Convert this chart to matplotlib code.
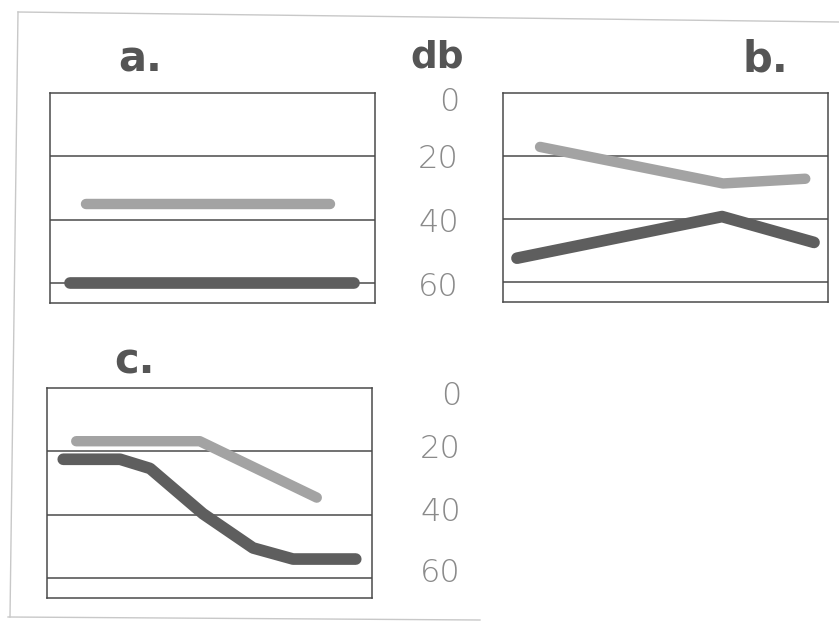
import matplotlib
matplotlib.use("Agg")
import matplotlib.pyplot as plt
from matplotlib.lines import Line2D
import matplotlib.transforms as mtransforms

# ---- data (x as % of panel width, y in dB hearing level) ----
a_gray_x = [11, 86]
a_gray_y = [35, 35]
a_dark_x = [6, 93.5]
a_dark_y = [60, 60]

b_gray_x = [11.4, 67.7, 93]
b_gray_y = [17.1, 28.7, 27.2]
b_dark_x = [4.3, 67.4, 95.7]
b_dark_y = [52.4, 39.2, 47.4]

c_gray_x = [9, 47, 83]
c_gray_y = [16.8, 16.8, 34.6]
c_dark_x = [5, 22.5, 31.7, 48, 63.4, 75.7, 95]
c_dark_y = [22.5, 22.5, 25.4, 39.7, 50.5, 54, 54]

db_ticks = [0, 20, 40, 60]
db_labels = ["0", "20", "40", "60"]
panel_labels = ["a.", "b.", "c."]

W, H = 839, 623
fig = plt.figure(figsize=(W / 100, H / 100), dpi=100)
fig.patch.set_facecolor("white")

DARK = "#5e5e5e"
GRAY = "#a3a3a3"
FRAME = "#4a4a4a"
LBL = "#8a8a8a"
TITLE = "#555555"

def px_axes(x0, y0, x1, y1):
    return fig.add_axes([x0 / W, 1 - y1 / H, (x1 - x0) / W, (y1 - y0) / H])

def style(ax):
    ax.set_xlim(0, 100)
    ax.set_ylim(66.3, 0)
    ax.set_xticks([])
    ax.set_yticks([])
    for s in ax.spines.values():
        s.set_color(FRAME)
        s.set_linewidth(1.1)
    for v in db_ticks[1:]:
        ax.axhline(v, color=FRAME, lw=1.1, zorder=1)

axA = px_axes(50, 93, 375, 303)
axB = px_axes(503, 93, 828, 302)
axC = px_axes(47, 388, 372, 598)
for ax in (axA, axB, axC):
    style(ax)

def draw(ax, gx, gy, dx, dy):
    ax.plot(gx, gy, color=GRAY, lw=7.5, solid_capstyle="round",
            solid_joinstyle="round", zorder=3)
    ax.plot(dx, dy, color=DARK, lw=8.4, solid_capstyle="round",
            solid_joinstyle="round", zorder=3)

draw(axA, a_gray_x, a_gray_y, a_dark_x, a_dark_y)
draw(axB, b_gray_x, b_gray_y, b_dark_x, b_dark_y)
draw(axC, c_gray_x, c_gray_y, c_dark_x, c_dark_y)

# dB labels between panels
def db_column(ax, xpx, left_px, offsets):
    x_ax = (xpx - left_px) / 325.0
    tr = mtransforms.blended_transform_factory(ax.transAxes, ax.transData)
    for v, lab, off in zip(db_ticks, db_labels, offsets):
        ax.text(x_ax, v + off, lab, transform=tr, ha="right", va="center",
                fontsize=23, color=LBL, family="DejaVu Sans",
                fontweight="light", clip_on=False)

db_column(axA, 459, 50, [2.8, 0.8, 1.2, 1.2])
db_column(axC, 461, 47, [2.5, -0.8, -1.0, -1.5])

# titles
fig.text(140 / W, 1 - 60 / H, panel_labels[0], ha="center", va="center",
         fontsize=30, fontweight="bold", color=TITLE, family="DejaVu Sans")
fig.text(765 / W, 1 - 60 / H, panel_labels[1], ha="center", va="center",
         fontsize=30, fontweight="bold", color=TITLE, family="DejaVu Sans")
fig.text(135 / W, 1 - 362 / H, panel_labels[2], ha="center", va="center",
         fontsize=30, fontweight="bold", color=TITLE, family="DejaVu Sans")
fig.text(437 / W, 1 - 57 / H, "db", ha="center", va="center",
         fontsize=27, fontweight="bold", color=TITLE, family="DejaVu Sans")

# faint scanned page border
for (x0, y0, x1, y1) in [(18, 12, 839, 22), (18, 12, 10, 617), (8, 617, 480, 620)]:
    fig.add_artist(Line2D([x0 / W, x1 / W], [1 - y0 / H, 1 - y1 / H],
                          transform=fig.transFigure, color="#c8c8c8", lw=1.0))

fig.savefig("out.png", dpi=100)
